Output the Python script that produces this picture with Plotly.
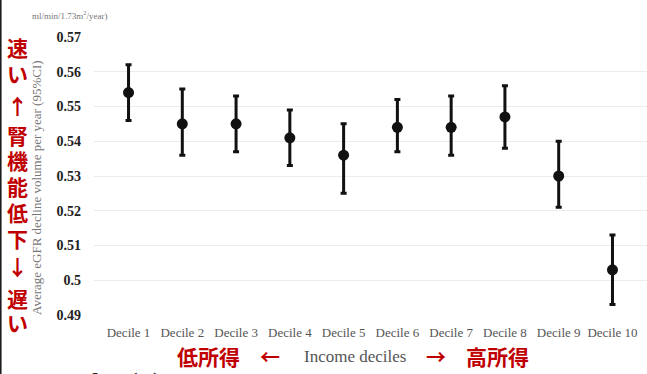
import plotly.graph_objects as go

# Income deciles and eGFR decline (mean with 95% CI)
deciles = ["Decile 1", "Decile 2", "Decile 3", "Decile 4", "Decile 5",
           "Decile 6", "Decile 7", "Decile 8", "Decile 9", "Decile 10"]
mean_decline = [0.554, 0.545, 0.545, 0.541, 0.536, 0.544, 0.544, 0.547, 0.530, 0.503]
ci_upper = [0.562, 0.555, 0.553, 0.549, 0.545, 0.552, 0.553, 0.556, 0.540, 0.513]
ci_lower = [0.546, 0.536, 0.537, 0.533, 0.525, 0.537, 0.536, 0.538, 0.521, 0.493]
y_ticks = [0.49, 0.50, 0.51, 0.52, 0.53, 0.54, 0.55, 0.56, 0.57]
y_tick_text = ["0.49", "0.5", "0.51", "0.52", "0.53", "0.54", "0.55", "0.56", "0.57"]

W, H = 647, 374
L, R, T, B = 94, 0, 37, 59
PW, PH = W - L - R, H - T - B


def px(x):
    return (x - L) / PW


def py(y):
    return (H - B - y) / PH


err_plus = [u - m for u, m in zip(ci_upper, mean_decline)]
err_minus = [m - l for m, l in zip(mean_decline, ci_lower)]

fig = go.Figure(go.Scatter(
    x=deciles, y=mean_decline, mode="markers",
    marker=dict(size=11, color="#111111"),
    error_y=dict(type="data", symmetric=False, array=err_plus, arrayminus=err_minus,
                 color="#111111", thickness=3, width=3),
    showlegend=False,
))

serif = "Liberation Serif"
cjk = "Noto Sans CJK JP"
red = "#c00000"

annotations = []

# red vertical legend on the left
left_chars = [("速", 47), ("い", 73), ("↑", 105), ("腎", 135), ("機", 160), ("能", 186),
              ("低", 212), ("下", 238), ("↓", 266), ("遅", 298), ("い", 322)]
for ch, yy in left_chars:
    annotations.append(dict(text=ch, x=px(17), y=py(yy), xref="paper", yref="paper",
                            xanchor="center", yanchor="middle", showarrow=False,
                            font=dict(family=cjk, size=21, color=red, weight="bold")))

# y-axis title and units
annotations.append(dict(text="Average eGFR decline volume per year (95%CI)",
                        x=px(36), y=py(188), xref="paper", yref="paper",
                        xanchor="center", yanchor="middle", textangle=-90, showarrow=False,
                        font=dict(family=serif, size=13, color="#777777")))
annotations.append(dict(text="ml/min/1.73m<sup>2</sup>/year)",
                        x=px(30), y=py(15), xref="paper", yref="paper",
                        xanchor="left", yanchor="middle", showarrow=False,
                        font=dict(family=serif, size=9, color="#777777")))

# x-axis caption with income direction
annotations.append(dict(text="低所得", x=px(208), y=py(356), xref="paper", yref="paper",
                        xanchor="center", yanchor="middle", showarrow=False,
                        font=dict(family=cjk, size=21, color=red, weight="bold")))
annotations.append(dict(text="←", x=px(270), y=py(356), xref="paper", yref="paper",
                        xanchor="center", yanchor="middle", showarrow=False,
                        font=dict(family=cjk, size=20, color=red, weight="bold")))
annotations.append(dict(text="Income deciles", x=px(355), y=py(356), xref="paper", yref="paper",
                        xanchor="center", yanchor="middle", showarrow=False,
                        font=dict(family=serif, size=17, color="#555555")))
annotations.append(dict(text="→", x=px(436), y=py(356), xref="paper", yref="paper",
                        xanchor="center", yanchor="middle", showarrow=False,
                        font=dict(family=cjk, size=20, color=red, weight="bold")))
annotations.append(dict(text="高所得", x=px(497), y=py(356), xref="paper", yref="paper",
                        xanchor="center", yanchor="middle", showarrow=False,
                        font=dict(family=cjk, size=21, color=red, weight="bold")))

# slide heading below the chart
annotations.append(dict(text="Results (2)", x=px(30), y=py(364), xref="paper", yref="paper",
                        xanchor="left", yanchor="top", showarrow=False,
                        font=dict(family=serif, size=30, color="#222222")))

fig.update_layout(
    width=W, height=H,
    margin=dict(l=L, r=R, t=T, b=B, pad=0),
    paper_bgcolor="white", plot_bgcolor="white",
    annotations=annotations,
    shapes=[dict(type="line", xref="paper", yref="paper",
                 x0=px(0.8), x1=px(0.8), y0=py(0), y1=py(H),
                 line=dict(color="#111111", width=1.5))],
    xaxis=dict(
        showgrid=False, zeroline=False, showline=False, ticks="",
        tickfont=dict(family=serif, size=13, color="#555555"),
        ticklabelstandoff=8,
    ),
    yaxis=dict(
        range=[0.49, 0.57], tickvals=y_ticks, ticktext=y_tick_text,
        showgrid=True, gridcolor="#ececec", gridwidth=1,
        zeroline=False, showline=False, ticks="",
        tickfont=dict(family=serif, size=14, color="#222222", weight="bold"),
        ticklabelstandoff=12,
    ),
)

fig.write_html("out.html")
